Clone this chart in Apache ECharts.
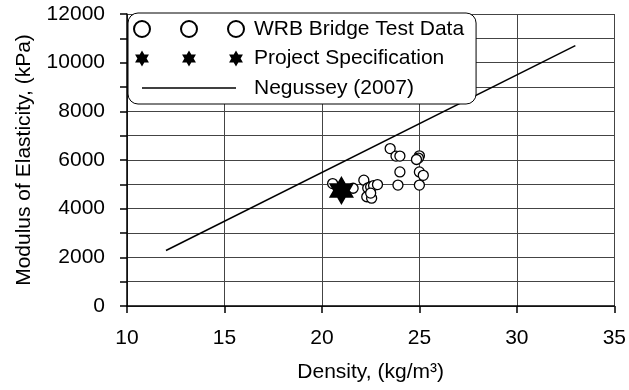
<!DOCTYPE html>
<html>
<head>
<meta charset="utf-8">
<script src="https://cdn.jsdelivr.net/npm/echarts@6/dist/echarts.min.js"></script>
<style>
  html, body { margin: 0; padding: 0; background: #fff; }
  #one { width: 629px; height: 390px; }
</style>
</head>
<body>
<div id="one"></div>
<script>
// WRB bridge test data: [density kg/m3, modulus kPa]
var wrbData = [
    [23.5, 6470], [23.8, 6160], [24.0, 6160], [24.0, 5510], [23.9, 4970],
    [25.0, 6170], [24.95, 6080], [24.85, 6020], [25.0, 5510], [25.2, 5370], [25.0, 4970],
    [22.15, 5170], [22.35, 4850], [22.5, 4900], [22.65, 4950], [22.85, 4990],
    [22.3, 4490], [22.55, 4430], [22.5, 4640], [21.6, 4840], [20.55, 5030]
];
var specData = [[21.0, 4750]];
var negusseyData = [[12, 2280], [33, 10700]];

var xTicks = { min: 10, max: 35, step: 5 };
var yTicks = { min: 0, max: 12000, step: 2000 };

var names = ['WRB Bridge Test Data', 'Project Specification', 'Negussey (2007)'];

// six point star, two triangles same winding
function star(cx, cy, r) {
    var w = r * 0.866, h = r / 2;
    return 'M' + cx + ',' + (cy - r) + 'L' + (cx + w) + ',' + (cy + h) + 'L' + (cx - w) + ',' + (cy + h) + 'Z' +
           'M' + cx + ',' + (cy + r) + 'L' + (cx - w) + ',' + (cy - h) + 'L' + (cx + w) + ',' + (cy - h) + 'Z';
}
function circ(cx, cy, r) {
    return 'M' + (cx - r) + ',' + cy + 'a' + r + ',' + r + ' 0 1,0 ' + (2 * r) + ',0' +
           'a' + r + ',' + r + ' 0 1,0 ' + (-2 * r) + ',0Z';
}
// legend icons, 110x16 box (moveTo corners fix the box)
var starIcon = 'path://' + star(8, 8, 8) + star(55, 8, 8) + star(102, 8, 8);
var circIcon = 'path://' + circ(8, 8, 8) + circ(55, 8, 8) + circ(102, 8, 8);
var lineIcon = 'path://M0,0M110,16M8,7.3H102V8.7H8Z';

var font = "'Liberation Sans', Arial, sans-serif";
var fs = 21;

var myChart = echarts.init(document.getElementById('one'));
option = {
    animation: false,
    backgroundColor: '#fff',
    textStyle: { fontFamily: font, color: '#000' },
    grid: { left: 127, right: 14, top: 14, bottom: 84 },
    legend: {
        orient: 'vertical',
        left: 128,
        top: 13,
        data: [
            { name: names[0], icon: circIcon },
            { name: names[1], icon: starIcon },
            { name: names[2], icon: lineIcon }
        ],
        itemWidth: 110,
        itemHeight: 16,
        itemGap: 7.5,
        padding: [5, 12, 5, 5],
        backgroundColor: '#fff',
        borderColor: '#000',
        borderWidth: 1,
        borderRadius: 10,
        textStyle: { fontSize: fs, color: '#000', fontFamily: font, lineHeight: 22, padding: [0, 0, 0, 5] }
    },
    xAxis: {
        type: 'value',
        min: xTicks.min,
        max: xTicks.max,
        interval: xTicks.step,
        name: 'Density, (kg/m³)',
        nameLocation: 'middle',
        nameGap: 56,
        nameTextStyle: { fontSize: fs, color: '#000', fontFamily: font },
        axisLine: { show: true, onZero: false, lineStyle: { color: '#000', width: 1.5 } },
        axisTick: { show: true, inside: false, length: 7, lineStyle: { color: '#000', width: 1.5 } },
        axisLabel: { fontSize: fs, color: '#000', margin: 22, fontFamily: font },
        splitLine: { show: true, lineStyle: { color: '#444', width: 1 } }
    },
    yAxis: {
        type: 'value',
        min: yTicks.min,
        max: yTicks.max,
        interval: yTicks.step,
        name: 'Modulus of Elasticity, (kPa)',
        nameLocation: 'middle',
        nameGap: 92,
        nameTextStyle: { fontSize: fs, color: '#000', fontFamily: font },
        axisLine: { show: true, onZero: false, lineStyle: { color: '#000', width: 1.5 } },
        axisTick: { show: true, inside: false, length: 7, lineStyle: { color: '#000', width: 1.5 } },
        minorTick: { show: true, splitNumber: 2, length: 7, lineStyle: { color: '#000', width: 1.5 } },
        axisLabel: {
            fontSize: fs, color: '#000', margin: 22, fontFamily: font,
            formatter: function (v) { return String(v); }
        },
        splitLine: { show: true, lineStyle: { color: '#444', width: 1 } },
        minorSplitLine: { show: true, lineStyle: { color: '#444', width: 1 } }
    },
    series: [
        {
            name: names[2],
            type: 'line',
            symbol: 'none',
            lineStyle: { color: '#000', width: 1.5 },
            itemStyle: { color: '#000', borderWidth: 0 },
            data: negusseyData
        },
        {
            name: names[0],
            type: 'scatter',
            symbol: 'circle',
            symbolSize: 10,
            itemStyle: { color: '#fff', borderColor: '#000', borderWidth: 1.3, opacity: 1 },
            data: wrbData
        },
        {
            name: names[1],
            type: 'scatter',
            symbol: 'path://' + star(0, 0, 10),
            symbolKeepAspect: true,
            symbolSize: 29,
            itemStyle: { color: '#000', borderColor: '#000', borderWidth: 0, opacity: 1 },
            data: specData
        }
    ]
};
myChart.setOption(option);
</script>
</body>
</html>
